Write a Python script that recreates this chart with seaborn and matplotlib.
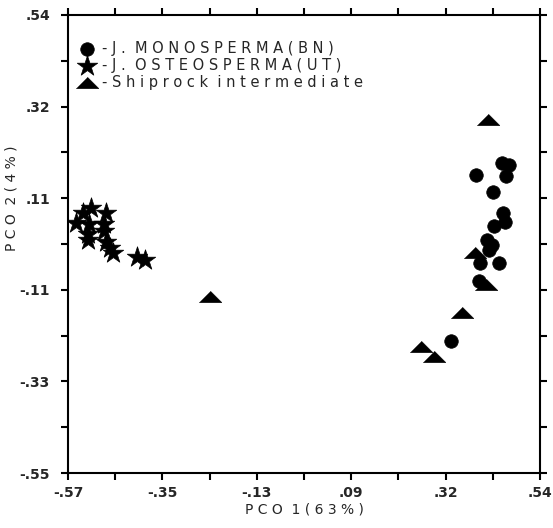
import numpy as np
import pandas as pd
import matplotlib
matplotlib.use("Agg")
import matplotlib.pyplot as plt
from matplotlib.ticker import FixedLocator
import seaborn as sns

# PCO scores
mono_x = [0.451, 0.468, 0.390, 0.461, 0.430, 0.454, 0.458, 0.432, 0.416, 0.428,
          0.421, 0.399, 0.444, 0.397, 0.331]
mono_y = [0.188, 0.183, 0.159, 0.157, 0.119, 0.069, 0.047, 0.038, 0.004, -0.008,
          -0.020, -0.050, -0.050, -0.093, -0.236]

osteo_x = [-0.516, -0.535, -0.481, -0.551, -0.521, -0.485, -0.485, -0.523, -0.523,
           -0.481, -0.471, -0.464, -0.408, -0.389]
osteo_y = [0.080, 0.069, 0.069, 0.045, 0.042, 0.042, 0.026, 0.019, 0.004,
           0.000, -0.015, -0.027, -0.036, -0.043]

ship_x = [0.418, 0.388, 0.414, 0.357, 0.261, 0.291, -0.236]
ship_y = [0.290, -0.027, -0.103, -0.170, -0.250, -0.274, -0.131]

groups = ["J. MONOSPERMA(BN)", "J. OSTEOSPERMA(UT)", "Shiprock intermediate"]

x_ticks = [-0.57, -0.348, -0.126, 0.096, 0.318, 0.54]
x_labels = ["-.57", "-.35", "-.13", ".09", ".32", ".54"]
y_ticks = [-0.55, -0.332, -0.114, 0.104, 0.322, 0.54]
y_labels = ["-.55", "-.33", "-.11", ".11", ".32", ".54"]

df = pd.DataFrame({
    "pco1": mono_x + osteo_x + ship_x,
    "pco2": mono_y + osteo_y + ship_y,
    "group": [groups[0]] * len(mono_x) + [groups[1]] * len(osteo_x) + [groups[2]] * len(ship_x),
})


def spaced(s):
    # wide letter spacing like the old plotter lettering
    return "  ".join(" ".join(w) for w in s.split(" "))


sns.set_style("ticks")
plt.rcParams["font.family"] = ["DejaVu Sans"]

fig = plt.figure(figsize=(5.53, 5.28), dpi=100)
ax = fig.add_axes([0.123, 0.104, 0.8535, 0.8676])

flat_tri = [(-1.0, -0.45), (1.0, -0.45), (0.0, 0.55)]
markers = {groups[0]: "o", groups[1]: "*", groups[2]: flat_tri}
sizes = {groups[0]: 95, groups[1]: 240, groups[2]: 260}

for g in groups:
    sub = df[df["group"] == g]
    sns.scatterplot(data=sub, x="pco1", y="pco2", marker=markers[g], s=sizes[g],
                    color="black", edgecolor="black", linewidth=0.5, ax=ax,
                    label="- " + spaced(g), zorder=3)

ax.set_xlim(-0.57, 0.54)
ax.set_ylim(-0.55, 0.54)

ax.xaxis.set_major_locator(FixedLocator(x_ticks))
ax.yaxis.set_major_locator(FixedLocator(y_ticks))
ax.xaxis.set_minor_locator(FixedLocator([(a + b) / 2 for a, b in zip(x_ticks[:-1], x_ticks[1:])]))
ax.yaxis.set_minor_locator(FixedLocator([(a + b) / 2 for a, b in zip(y_ticks[:-1], y_ticks[1:])]))
ax.set_xticklabels(x_labels, fontsize=10, fontweight="bold")
ax.set_yticklabels(y_labels, fontsize=10, fontweight="bold")

ax.tick_params(which="both", direction="out", length=5, width=1.5,
               top=True, right=True, color="black")
ax.tick_params(axis="x", which="both", pad=4)
ax.tick_params(axis="y", which="both", pad=8)
for sp in ax.spines.values():
    sp.set_linewidth(1.5)
    sp.set_color("black")

ax.set_xlabel(spaced("PCO 1(63%)"), fontsize=10, labelpad=2)
ax.set_ylabel(spaced("PCO 2(4%)"), fontsize=10)
ax.yaxis.set_label_coords(-0.105, 0.6)

ax.legend(loc="upper left", bbox_to_anchor=(0.0, 0.962), frameon=False,
          handletextpad=0.3, borderaxespad=0.2, labelspacing=0.12,
          handlelength=1.4, prop={"size": 10.5})

fig.savefig("out.png", dpi=100)
